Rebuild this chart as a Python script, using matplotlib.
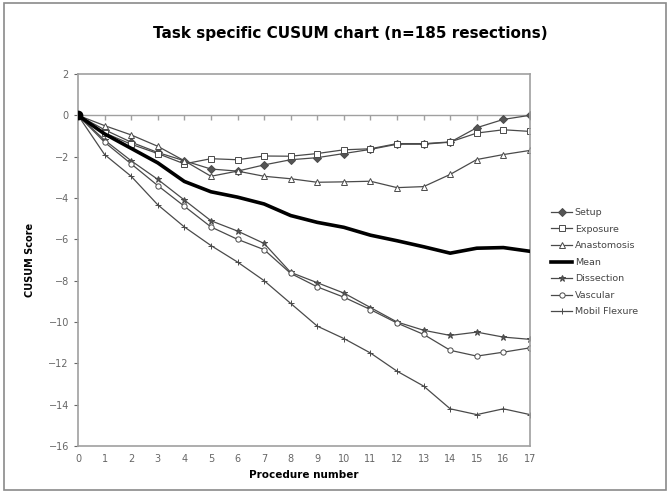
import matplotlib
matplotlib.use("Agg")
from matplotlib import pyplot as plt
from matplotlib.patches import Rectangle
import numpy as np

# procedure numbers 0..17
procedure = list(range(18))

setup = [0, -0.7, -1.3, -1.8, -2.2, -2.6, -2.7, -2.4, -2.15, -2.05, -1.85, -1.65, -1.4, -1.4, -1.3, -0.6, -0.2, 0.0]
exposure = [0, -0.85, -1.4, -1.85, -2.35, -2.1, -2.15, -1.97, -1.98, -1.85, -1.67, -1.62, -1.37, -1.37, -1.29, -0.86, -0.7, -0.78]
anastomosis = [0, -0.5, -0.95, -1.5, -2.2, -2.95, -2.7, -2.95, -3.07, -3.24, -3.22, -3.19, -3.5, -3.45, -2.86, -2.14, -1.9, -1.7]
mean = [0, -0.9, -1.6, -2.3, -3.2, -3.7, -3.96, -4.29, -4.85, -5.18, -5.42, -5.8, -6.07, -6.36, -6.67, -6.43, -6.4, -6.58]
dissection = [0, -1.2, -2.2, -3.1, -4.1, -5.1, -5.6, -6.2, -7.6, -8.1, -8.6, -9.3, -10.0, -10.4, -10.65, -10.49, -10.73, -10.84]
vascular = [0, -1.3, -2.35, -3.4, -4.4, -5.4, -6.0, -6.5, -7.65, -8.3, -8.8, -9.4, -10.05, -10.6, -11.37, -11.65, -11.46, -11.25]
mobil_flexure = [0, -1.9, -2.95, -4.33, -5.4, -6.3, -7.1, -8.0, -9.1, -10.2, -10.8, -11.5, -12.38, -13.1, -14.2, -14.48, -14.2, -14.48]

series = [
    ("Setup", setup, "D", "#555555"),
    ("Exposure", exposure, "s", "white"),
    ("Anastomosis", anastomosis, "^", "white"),
    ("Mean", mean, None, None),
    ("Dissection", dissection, "*", "#555555"),
    ("Vascular", vascular, "o", "white"),
    ("Mobil Flexure", mobil_flexure, "+", "#555555"),
]

line_col = "#4a4a4a"
axis_col = "#a0a0a0"

fig = plt.figure(figsize=(6.7, 4.93), dpi=100)
ax = fig.add_axes([0.1164, 0.0953, 0.6746, 0.7547])

# border around the whole chart
fig.patches.append(Rectangle((0.006, 0.006), 0.988, 0.988, transform=fig.transFigure,
                             fill=False, edgecolor="#8a8a8a", linewidth=1.2))

# horizontal axis crossing at 0 (Excel style)
ax.axhline(0, color=axis_col, linewidth=1, zorder=1)
ax.plot(procedure, [0] * len(procedure), linestyle="none", marker=3,
        markersize=3.5, color=axis_col, zorder=1)

for name, vals, mk, fc in series:
    if name == "Mean":
        ax.plot(procedure, vals, color="black", linewidth=2.6, label=name, zorder=3)
    else:
        ms = 5 if mk == "*" else 3.8
        ax.plot(procedure, vals, color=line_col, linewidth=0.9, marker=mk,
                markersize=ms, markerfacecolor=fc, markeredgecolor=line_col,
                markeredgewidth=0.7, label=name, zorder=2)

# big dot at origin where all lines start
ax.plot(procedure[0], mean[0], marker="o", markersize=6, color="black", zorder=4)

ax.set_xlim(0, 17)
ax.set_ylim(-16, 2)
ax.set_xticks(procedure)
ax.set_yticks(range(-16, 3, 2))
ax.tick_params(axis="both", labelsize=7, colors="#666666", length=3, width=0.8)
ax.tick_params(axis="x", length=0, pad=6)
for sp in ax.spines.values():
    sp.set_color(axis_col)
    sp.set_linewidth(1.2)

ax.set_xlabel("Procedure number", fontsize=7.5, fontweight="bold", labelpad=4)
ax.set_ylabel("CUSUM Score", fontsize=7, fontweight="bold", labelpad=10)

fig.text(0.523, 0.933, "Task specific CUSUM chart (n=185 resections)",
         ha="center", va="center", fontsize=11, fontweight="bold")

fig.legend(loc="upper left", bbox_to_anchor=(0.81, 0.595), frameon=False,
           fontsize=6.8, handlelength=2.2, handletextpad=0.3, labelspacing=0.8,
           labelcolor="#444444")

fig.savefig("out.png", dpi=100)
